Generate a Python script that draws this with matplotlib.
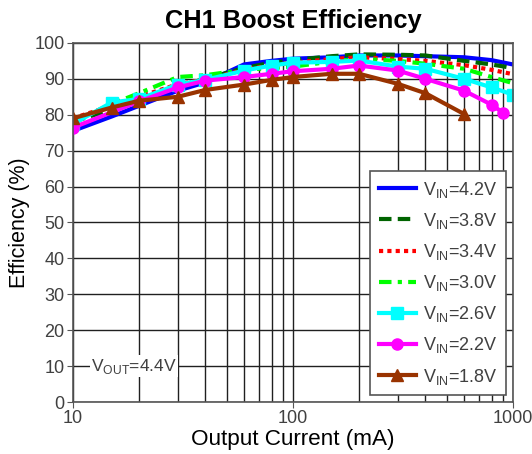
import matplotlib
matplotlib.use('Agg')
import matplotlib.pyplot as plt

plt.rcParams['font.family'] = ['Liberation Sans', 'DejaVu Sans']
plt.rcParams['mathtext.fontset'] = 'custom'
plt.rcParams['mathtext.rm'] = 'Liberation Sans'

# Output current (mA) and efficiency (%) per input voltage
i_full = [10, 15, 20, 30, 40, 60, 80, 100, 150, 200, 300, 400, 600, 800, 1000]
eff_42 = [75.5, 79.5, 82.5, 86.7, 89.0, 94.0, 95.0, 95.6, 96.0, 96.5, 96.5, 96.3, 96.0, 95.2, 94.0]
eff_38 = [78.0, 81.5, 84.0, 88.0, 90.0, 93.0, 94.5, 95.2, 96.3, 96.8, 96.7, 96.5, 95.0, 94.0, 93.0]
eff_34 = [79.0, 82.5, 85.0, 88.5, 89.8, 92.5, 93.8, 94.5, 95.5, 96.0, 95.5, 95.0, 93.8, 92.5, 91.3]
eff_30 = [78.0, 83.0, 86.0, 90.5, 91.0, 92.5, 93.0, 93.4, 94.8, 95.6, 95.0, 94.2, 92.8, 90.5, 88.8]
eff_26 = [77.4, 83.4, 84.4, 88.4, 89.7, 92.3, 93.7, 94.5, 94.7, 95.1, 93.4, 92.8, 90.0, 87.6, 85.6]

i_22 = [10, 20, 30, 40, 60, 80, 100, 150, 200, 300, 400, 600, 800, 900]
eff_22 = [76.4, 83.7, 87.6, 89.5, 90.5, 91.4, 92.1, 92.8, 93.7, 92.3, 90.0, 86.7, 82.8, 80.6]

i_18 = [10, 15, 20, 30, 40, 60, 80, 100, 150, 200, 300, 400, 600]
eff_18 = [79.0, 82.0, 83.9, 85.0, 86.9, 88.4, 89.7, 90.5, 91.4, 91.4, 88.6, 86.0, 80.2]

labels = ['4.2V', '3.8V', '3.4V', '3.0V', '2.6V', '2.2V', '1.8V']

fig = plt.figure(figsize=(5.32, 4.54), dpi=100)
ax = fig.add_axes([0.137, 0.1145, 0.827, 0.791])

lw = 3
ax.plot(i_full, eff_42, color='#0000ff', lw=lw, ls='-', label=r'V$_\mathregular{IN}$=' + labels[0])
ax.plot(i_full, eff_38, color='#006400', lw=lw, ls=(0, (3, 1.5)), label=r'V$_\mathregular{IN}$=' + labels[1])
ax.plot(i_full, eff_34, color='#ff0000', lw=lw, ls=(0, (1, 1)), label=r'V$_\mathregular{IN}$=' + labels[2])
ax.plot(i_full, eff_30, color='#00ff00', lw=lw, ls=(0, (3, 1.5, 1, 1.5)), label=r'V$_\mathregular{IN}$=' + labels[3])
ax.plot(i_full, eff_26, color='#00ffff', lw=lw, marker='s', ms=8, label=r'V$_\mathregular{IN}$=' + labels[4])
ax.plot(i_22, eff_22, color='#ff00ff', lw=lw, marker='o', ms=8, label=r'V$_\mathregular{IN}$=' + labels[5])
ax.plot(i_18, eff_18, color='#993300', lw=lw, marker='^', ms=9, label=r'V$_\mathregular{IN}$=' + labels[6])

ax.set_xscale('log')
ax.set_xlim(10, 1000)
ax.set_ylim(0, 100)
ax.set_yticks(range(0, 101, 10))
ax.set_xticks([10, 100, 1000])
ax.set_xticklabels(['10', '100', '1000'])
ax.grid(True, which='both', color='#202020', lw=1)
ax.set_axisbelow(True)
ax.tick_params(axis='both', which='both', colors='#555555', labelcolor='#404040',
               labelsize=13, direction='out', length=4, pad=2)
ax.tick_params(axis='x', which='minor', length=0)
for s in ax.spines.values():
    s.set_color('#555555')
    s.set_linewidth(1.2)

ax.set_title('CH1 Boost Efficiency', fontsize=18.3, fontweight='bold', pad=11)
ax.set_xlabel('Output Current (mA)', fontsize=16.2, labelpad=1)
ax.set_ylabel('Efficiency (%)', fontsize=15.5, labelpad=3)

ax.text(12.1, 10, r'V$_\mathregular{OUT}$=4.4V', fontsize=12.5, color='#404040',
        va='center', ha='left',
        bbox=dict(facecolor='white', edgecolor='none', pad=1))

leg = ax.legend(loc='lower right', fontsize=13, frameon=True, fancybox=False,
                edgecolor='#555555', framealpha=1, handlelength=2.1,
                borderaxespad=0.4, labelspacing=0.62, handletextpad=0.35,
                borderpad=0.45)
leg.get_frame().set_linewidth(1.2)
for t in leg.get_texts():
    t.set_color('#404040')

fig.savefig('out.png', dpi=100)
